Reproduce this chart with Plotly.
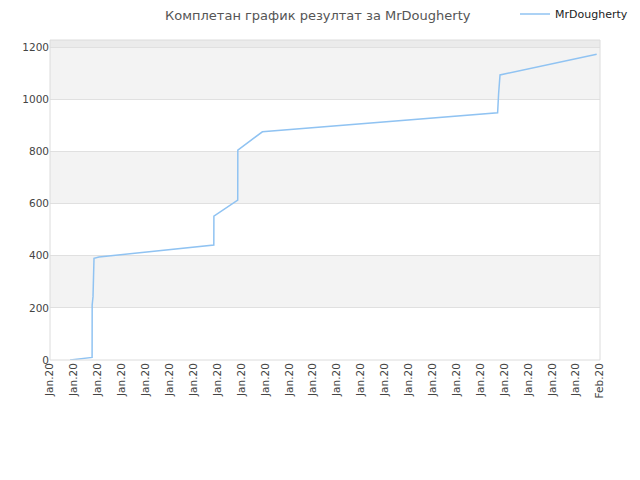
import plotly.graph_objects as go

# score history
times = [
    "2020-01-09 20:10", "2020-01-10 03:00", "2020-01-10 13:10", "2020-01-10 18:15",
    "2020-01-10 18:20", "2020-01-10 19:10", "2020-01-10 20:10", "2020-01-11 01:10",
    "2020-01-15 20:25", "2020-01-15 20:30", "2020-01-16 20:25", "2020-01-16 20:30",
    "2020-01-17 21:10", "2020-01-27 17:15", "2020-01-27 18:15", "2020-01-27 18:45",
    "2020-01-27 19:40", "2020-01-31 20:40",
]
scores = [0, 3, 8, 10, 211, 243, 390, 395, 441, 552, 613, 805, 875, 948, 1022, 1048, 1093, 1172]

player = "MrDougherty"
title = "Комплетан график резултат за MrDougherty"
y_max = 1227

fig = go.Figure()
fig.add_trace(
    go.Scatter(
        x=times,
        y=scores,
        mode="lines",
        name=player,
        line=dict(color="#90c3f2", width=1.5),
        showlegend=True,
    )
)

# alternating horizontal bands
shapes = []
for lo in range(200, 1200, 400):
    shapes.append(dict(type="rect", xref="paper", yref="y", x0=0, x1=1, y0=lo, y1=lo + 200,
                       fillcolor="#f3f3f3", line_width=0, layer="below"))
shapes.append(dict(type="rect", xref="paper", yref="y", x0=0, x1=1, y0=1200, y1=y_max,
                   fillcolor="#ebebeb", line_width=0, layer="below"))
shapes.append(dict(type="rect", xref="paper", yref="paper", x0=0, x1=1, y0=0, y1=1,
                   line=dict(color="#dcdcdc", width=1), layer="above"))

fig.update_layout(
    width=640,
    height=480,
    margin=dict(l=42, r=48, t=32, b=128, autoexpand=False),
    paper_bgcolor="white",
    plot_bgcolor="white",
    font=dict(family="DejaVu Sans", size=10.5, color="#444444"),
    title=dict(text=title, x=0.484, xanchor="center", y=0.984, yanchor="middle",
               font=dict(size=13, color="#555555")),
    legend=dict(x=1.06, xanchor="right", y=1.081, yanchor="middle", font=dict(size=11, color="#222222"),
                bgcolor="rgba(0,0,0,0)"),
    shapes=shapes,
    showlegend=True,
)
fig.update_xaxes(
    type="date",
    range=["2020-01-09", "2020-02-01"],
    dtick=86400000,
    tick0="2020-01-09",
    tickformat="%b.%y",
    tickangle=-90,
    showgrid=False,
    zeroline=False,
    showline=False,
    ticks="",
    automargin=False,
)
fig.update_yaxes(
    range=[0, y_max],
    tickvals=[0, 200, 400, 600, 800, 1000, 1200],
    showgrid=True,
    gridcolor="#e0e0e0",
    zeroline=False,
    showline=False,
    ticks="",
    automargin=False,
)

fig.write_html("out.html")
